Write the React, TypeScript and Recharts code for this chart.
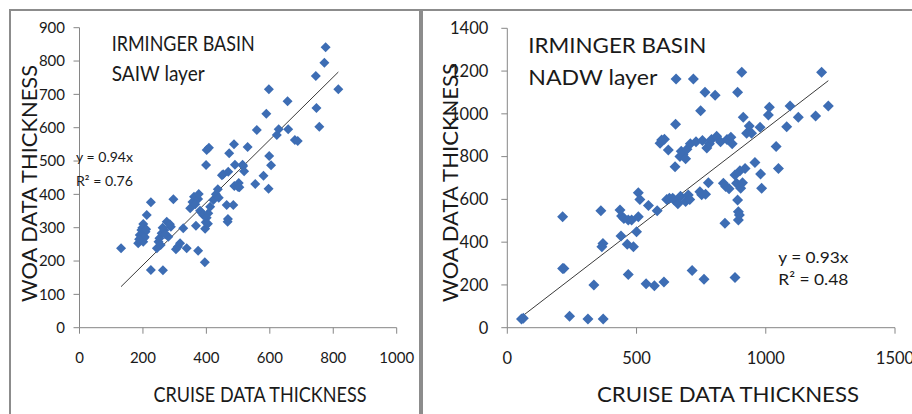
import React from "react";
import { ScatterChart, Scatter, XAxis, YAxis, ReferenceLine } from "recharts";

// SAIW layer (left panel)
const saiwCruise = [
  131, 185, 190, 195, 201, 203, 208, 201, 212, 198, 206, 188, 210, 225, 225, 263,
  244, 249, 252, 259, 268, 275, 280, 288, 262, 285, 256, 270, 296, 304, 310, 317,
  327, 338, 349, 356, 361, 367, 374, 374, 380, 376, 385, 365, 390, 395, 396, 398,
  401, 408, 399, 406, 412, 401, 405, 422, 430, 436, 439, 449, 453, 464, 485, 467,
  468, 469, 472, 487, 488, 490, 500, 502, 504, 514, 516, 519, 530, 554, 559, 580,
  589, 596, 598, 597, 604, 622, 628, 658, 656, 679, 688, 747, 745, 756, 772, 776, 816,
];
const saiwWoa = [
  238, 253, 278, 293, 311, 268, 288, 258, 338, 300, 272, 265, 295, 376, 173, 172,
  238, 258, 268, 283, 293, 318, 273, 303, 300, 310, 248, 280, 385, 235, 243, 253,
  298, 238, 358, 377, 393, 306, 386, 231, 351, 401, 345, 370, 338, 196, 297, 316,
  533, 540, 488, 343, 363, 330, 312, 383, 400, 415, 390, 457, 460, 368, 368, 318,
  326, 468, 523, 550, 425, 489, 422, 434, 421, 489, 485, 469, 542, 431, 593, 456,
  642, 417, 515, 715, 487, 578, 595, 595, 679, 563, 560, 659, 755, 603, 795, 841, 715,
];

// NADW layer (right panel)
const nadwCruise = [
  55, 62, 214, 214, 219, 241, 312, 335, 371, 362, 366, 370, 436, 440, 442, 451,
  464, 468, 468, 481, 488, 500, 507, 513, 507, 546, 537, 569, 580, 591, 597, 606,
  608, 623, 617, 627, 640, 646, 651, 649, 653, 660, 668, 673, 680, 690, 695, 670,
  690, 700, 706, 708, 715, 720, 730, 748, 745, 752, 755, 761, 765, 767, 772, 778,
  782, 790, 804, 810, 825, 836, 842, 845, 850, 858, 865, 870, 881, 881, 887, 891,
  891, 894, 894, 898, 900, 903, 907, 910, 913, 920, 926, 936, 945, 958, 978, 980,
  984, 1010, 1014, 1040, 1049, 1081, 1094, 1126, 1193, 1216, 1242,
];
const nadwWoa = [
  41, 44, 519, 277, 277, 53, 41, 200, 41, 547, 379, 394, 550, 429, 522, 511,
  390, 504, 249, 504, 379, 449, 631, 600, 519, 571, 206, 196, 547, 862, 878, 214,
  881, 831, 600, 605, 605, 597, 951, 753, 1163, 580, 800, 825, 810, 790, 835, 615,
  590, 620, 600, 860, 267, 1163, 870, 1015, 636, 622, 875, 226, 1101, 624, 840, 678,
  860, 880, 1087, 895, 870, 675, 488, 660, 880, 650, 890, 860, 235, 714, 675, 1101,
  597, 504, 542, 527, 734, 652, 1194, 678, 984, 745, 909, 943, 909, 772, 937, 719,
  652, 995, 1031, 847, 745, 940, 1037, 984, 990, 1194, 1037,
];

const saiwXTicks = [0, 200, 400, 600, 800, 1000];
const saiwYTicks = [0, 100, 200, 300, 400, 500, 600, 700, 800, 900];
const nadwXTicks = [0, 500, 1000, 1500];
const nadwYTicks = [0, 200, 400, 600, 800, 1000, 1200, 1400];

const saiwSlope = 0.94;
const nadwSlope = 0.93;

const FONT = "Lato, 'Open Sans', sans-serif";
const BLUE = "#3d6db4";
const AXIS = "#868686";
const INK = "#1a1a1a";

const toPoints = (xs: number[], ys: number[]) => xs.map((x, i) => ({ x, y: ys[i] }));

const diamond = (r: number) => (props: any) => {
  const { cx, cy } = props;
  return <path d={`M${cx},${cy - r}L${cx + r},${cy}L${cx},${cy + r}L${cx - r},${cy}Z`} fill={BLUE} />;
};

function AxisTitle({ tx, ty, text, len, size, vertical }: any) {
  return (
    <text
      x={tx}
      y={ty}
      textAnchor="middle"
      fontFamily={FONT}
      fontSize={size}
      fill={INK}
      textLength={len}
      lengthAdjust="spacingAndGlyphs"
      transform={vertical ? `rotate(-90 ${tx} ${ty})` : undefined}
    >
      {text}
    </text>
  );
}

function Note({ x, y, text, len, size }: any) {
  return (
    <text x={x} y={y} fontFamily={FONT} fontSize={size} fill={INK} textLength={len} lengthAdjust="spacingAndGlyphs">
      {text}
    </text>
  );
}

function trendSegment(xs: number[], slope: number) {
  const lo = Math.min(...xs);
  const hi = Math.max(...xs);
  return [
    { x: lo, y: lo * slope },
    { x: hi, y: hi * slope },
  ];
}

export default function App() {
  const saiw = toPoints(saiwCruise, saiwWoa);
  const nadw = toPoints(nadwCruise, nadwWoa);

  return (
    <div style={{ position: "absolute", left: 0, top: 0, width: 912, height: 414, overflow: "hidden", background: "#fff" }}>
      <div style={{ position: "absolute", left: 9, top: 9, width: 412, height: 420, border: "2px solid #8c8c8c", boxSizing: "border-box" }} />
      <div style={{ position: "absolute", left: 421, top: 9, width: 500, height: 420, border: "2px solid #8c8c8c", boxSizing: "border-box" }} />

      <div style={{ position: "absolute", left: 0, top: 0 }}>
        <ScatterChart width={420} height={414} margin={{ top: 27.7, right: 23.3, bottom: 26.3, left: 0 }}>
          <XAxis
            type="number"
            dataKey="x"
            domain={[0, 1000]}
            ticks={saiwXTicks}
            height={60}
            tickSize={6}
            tickMargin={19}
            axisLine={{ stroke: AXIS }}
            tickLine={{ stroke: AXIS }}
            tick={{ fontSize: 15, fontFamily: FONT, fill: INK }}
            label={<AxisTitle tx={260} ty={401.7} text="CRUISE DATA THICKNESS" len={213} size={22} />}
          />
          <YAxis
            type="number"
            dataKey="y"
            domain={[0, 900]}
            ticks={saiwYTicks}
            width={79.5}
            tickSize={6}
            tickMargin={8.5}
            axisLine={{ stroke: AXIS }}
            tickLine={{ stroke: AXIS }}
            tick={{ fontSize: 15, fontFamily: FONT, fill: INK }}
            label={<AxisTitle tx={36.7} ty={183.5} text="WOA DATA THICKNESS" len={237} size={22} vertical />}
          />
          <ReferenceLine segment={trendSegment(saiwCruise, saiwSlope)} stroke="#3a3a3a" strokeWidth={1} />
          <Scatter data={saiw} shape={diamond(5)} isAnimationActive={false} />
        </ScatterChart>
      </div>

      <div style={{ position: "absolute", left: 421, top: 0 }}>
        <ScatterChart width={520} height={414} margin={{ top: 28.3, right: 46, bottom: 26.3, left: 0 }}>
          <XAxis
            type="number"
            dataKey="x"
            domain={[0, 1500]}
            ticks={nadwXTicks}
            height={60}
            tickSize={6}
            tickMargin={19}
            axisLine={{ stroke: AXIS }}
            tickLine={{ stroke: AXIS }}
            tick={{ fontSize: 16.5, fontFamily: FONT, fill: INK }}
            label={<AxisTitle tx={307} ty={402} text="CRUISE DATA THICKNESS" len={262} size={22} />}
          />
          <YAxis
            type="number"
            dataKey="y"
            domain={[0, 1400]}
            ticks={nadwYTicks}
            width={86.3}
            tickSize={6}
            tickMargin={13}
            axisLine={{ stroke: AXIS }}
            tickLine={{ stroke: AXIS }}
            tick={{ fontSize: 16.5, fontFamily: FONT, fill: INK }}
            label={<AxisTitle tx={37.3} ty={182.5} text="WOA DATA THICKNESS" len={239} size={22} vertical />}
          />
          <ReferenceLine segment={trendSegment(nadwCruise, nadwSlope)} stroke="#3a3a3a" strokeWidth={1} />
          <Scatter data={nadw} shape={diamond(5.5)} isAnimationActive={false} />
        </ScatterChart>
      </div>

      <svg width={912} height={414} style={{ position: "absolute", left: 0, top: 0, pointerEvents: "none" }}>
        <Note x={111.7} y={50.7} text="IRMINGER BASIN" len={143} size={22} />
        <Note x={111.7} y={81} text="SAIW layer" len={93} size={22} />
        <Note x={76} y={161.7} text="y = 0.94x" len={57} size={14} />
        <Note x={76} y={186} text="R² = 0.76" len={57} size={14} />
        <Note x={528.3} y={53.3} text="IRMINGER BASIN" len={178} size={22} />
        <Note x={528.3} y={85} text="NADW layer" len={129} size={22} />
        <Note x={778.3} y={262.7} text="y = 0.93x" len={70} size={16} />
        <Note x={778.3} y={285} text="R² = 0.48" len={70} size={16} />
      </svg>
    </div>
  );
}
